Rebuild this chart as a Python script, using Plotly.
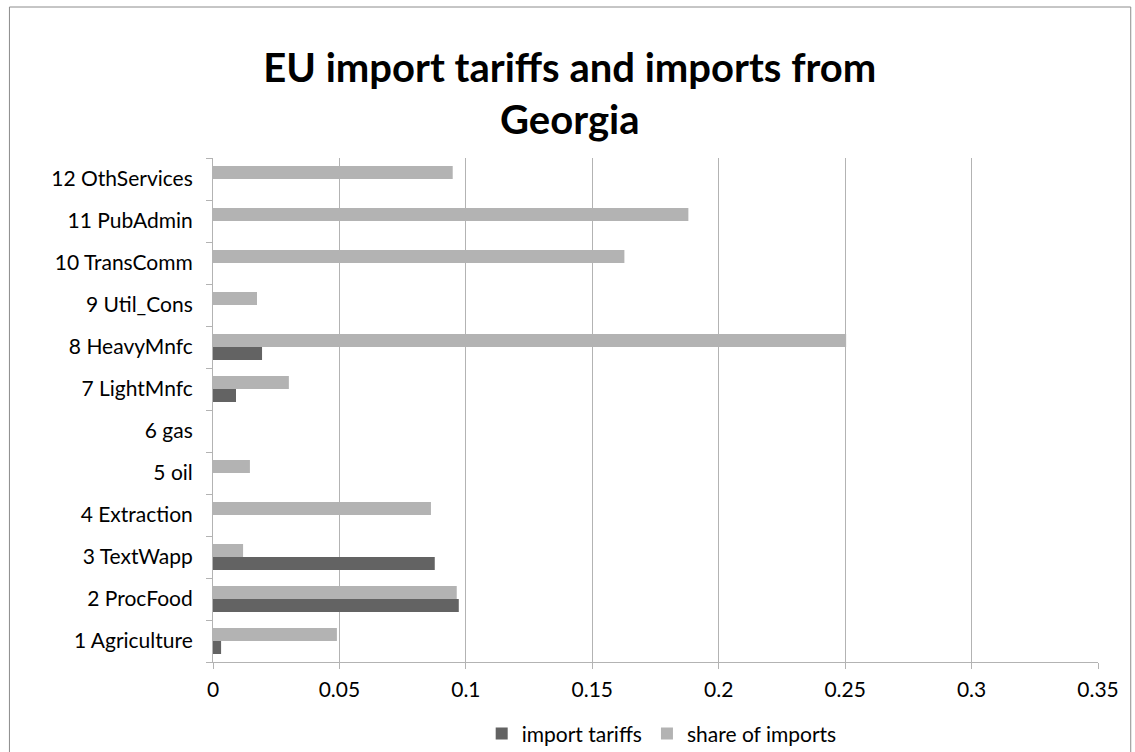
import plotly.graph_objects as go

categories = ["1 Agriculture", "2 ProcFood", "3 TextWapp", "4 Extraction", "5 oil", "6 gas",
              "7 LightMnfc", "8 HeavyMnfc", "9 Util_Cons", "10 TransComm", "11 PubAdmin", "12 OthServices"]
import_tariffs = [0.0032, 0.0972, 0.0877, 0.0, 0.0, 0.0, 0.0091, 0.0194, 0.0, 0.0, 0.0, 0.0]
share_of_imports = [0.049, 0.0964, 0.0119, 0.0862, 0.0146, 0.0, 0.030, 0.2504, 0.0174, 0.1627, 0.188, 0.0948]
x_ticks = [0, 0.05, 0.1, 0.15, 0.2, 0.25, 0.3, 0.35]
x_tick_labels = ["0", "0.05", "0.1", "0.15", "0.2", "0.25", "0.3", "0.35"]

FONT = "Lato, Open Sans, sans-serif"

fig = go.Figure()
fig.add_trace(go.Bar(y=categories, x=import_tariffs, orientation="h", name="import tariffs",
                     marker=dict(color="#636363", line=dict(width=0))))
fig.add_trace(go.Bar(y=categories, x=share_of_imports, orientation="h", name="share of imports",
                     marker=dict(color="#b3b3b3", line=dict(width=0))))

fig.update_layout(
    width=1135, height=752,
    margin=dict(l=213, r=37, t=158, b=90, autoexpand=False),
    paper_bgcolor="white", plot_bgcolor="white",
    barmode="group", bargap=0.38, bargroupgap=0,
    font=dict(family=FONT, color="black", size=21),
    title=dict(text="<b>EU import tariffs and imports from<br>Georgia</b>",
               x=0.502, xanchor="center", y=0.891, yanchor="middle",
               font=dict(family=FONT, size=40, color="black")),
    showlegend=True,
    legend=dict(orientation="h", x=0.507, xanchor="center", yref="container", y=0.024, yanchor="middle",
                font=dict(family=FONT, size=21), itemwidth=30, traceorder="normal"),
    shapes=[dict(type="rect", xref="paper", yref="paper", x0=-0.230, x1=1.037, y0=-0.2, y1=1.2996,
                 line=dict(color="#8c8c8c", width=1))],
)
fig.update_xaxes(range=[0, 0.35], tickvals=x_ticks, ticktext=x_tick_labels,
                 showgrid=True, gridcolor="#b3b3b3", gridwidth=1,
                 showline=True, linecolor="#b3b3b3", linewidth=1,
                 ticks="outside", ticklen=6, tickcolor="#b3b3b3", automargin=False,
                 zeroline=False, tickfont=dict(size=21), ticklabelstandoff=3)
fig.update_yaxes(categoryorder="array", categoryarray=categories,
                 showline=True, linecolor="#b3b3b3", linewidth=1,
                 ticks="outside", ticklen=6, tickcolor="#b3b3b3", tickson="boundaries",
                 showgrid=False, tickfont=dict(size=21), ticklabelstandoff=15, automargin=False)

fig.write_html("out.html")
